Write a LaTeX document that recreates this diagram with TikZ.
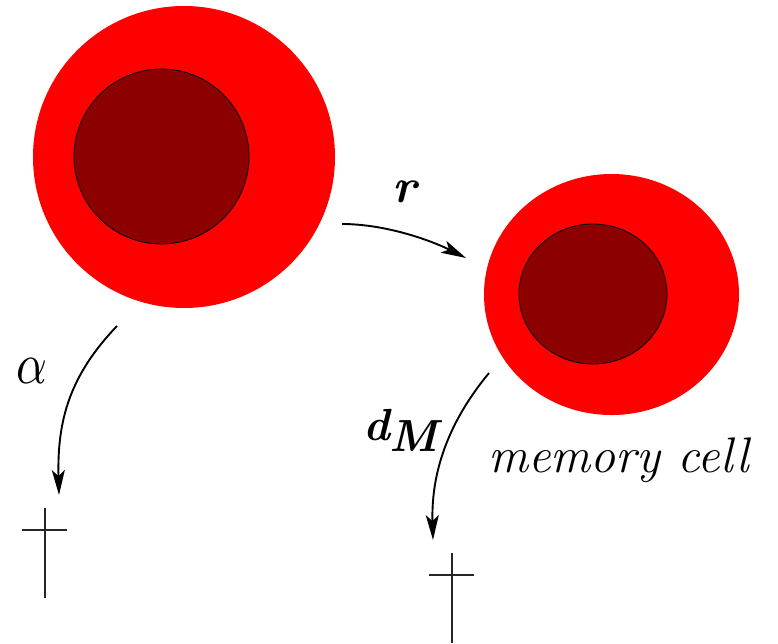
\documentclass[tikz,border=0pt]{standalone}
\usepackage{fontspec}
\usepackage{graphicx}
\usetikzlibrary{arrows.meta}
\definecolor{cellred}{RGB}{255,0,0}
\definecolor{nucleus}{RGB}{140,0,0}
\begin{document}
\begin{tikzpicture}[x=1pt,y=-1pt,
  cellbody/.style={fill=cellred,draw=none},
  cellcore/.style={fill=nucleus,draw=black,line width=0.8pt},
  flow/.style={line width=1.9pt,-{Stealth[length=25pt,width=13pt,inset=6pt]}},
  grave/.style={line width=1.1pt,draw=black!85},
  lbl/.style={font=\fontsize{48}{58}\selectfont,inner sep=0pt}]
\useasboundingbox (0,0) rectangle (778,643);

% effector cell
\path[cellbody] (184,157) ellipse [x radius=151, y radius=151];
\path[cellcore] (161.5,156.5) ellipse [x radius=87.5, y radius=87.5];
% memory cell
\path[cellbody] (611.5,294.5) ellipse [x radius=127.5, y radius=120.5];
\path[cellcore] (593,294) ellipse [x radius=74, y radius=70];

% connector end points
\coordinate (effout) at (342,224);
\coordinate (memin) at (466,258);
\coordinate (effdie) at (117,326);
\coordinate (effend) at (59,495);
\coordinate (memdie) at (489,373);
\coordinate (memend) at (433,540);

% transitions
\draw[flow] (effout) .. controls (385,224) and (430,240) .. (memin);
\draw[flow] (effdie) .. controls (70,375) and (57,420) .. (effend);
\draw[flow] (memdie) .. controls (450,420) and (431,470) .. (memend);

% crosses
\coordinate (c1top) at (45,508);
\coordinate (c1bot) at (45,598);
\coordinate (c1l) at (22,530);
\coordinate (c1r) at (67,530);
\draw[grave] (c1top) -- (c1bot);
\draw[grave] (c1l) -- (c1r);
\coordinate (c2top) at (452,553);
\coordinate (c2bot) at (452,643);
\coordinate (c2l) at (429,575);
\coordinate (c2r) at (474,575);
\draw[grave] (c2top) -- (c2bot);
\draw[grave] (c2l) -- (c2r);

% labels
\node[lbl,anchor=base] (rlab) at (405,202) {\bfseries\itshape r};
\node[inner sep=0pt,anchor=base] (alab) at (32,383) {\scalebox{4.8}[5.8]{$\alpha$}};
\node[lbl,font=\fontsize{45}{54}\selectfont,anchor=base west] (dlab) at (363,440) {\bfseries\itshape d\raisebox{-11pt}{M}};
\node[lbl,font=\fontsize{50}{60}\selectfont,anchor=base west] (mlab) at (488,472) {\itshape memory cell};
\end{tikzpicture}
\end{document}
